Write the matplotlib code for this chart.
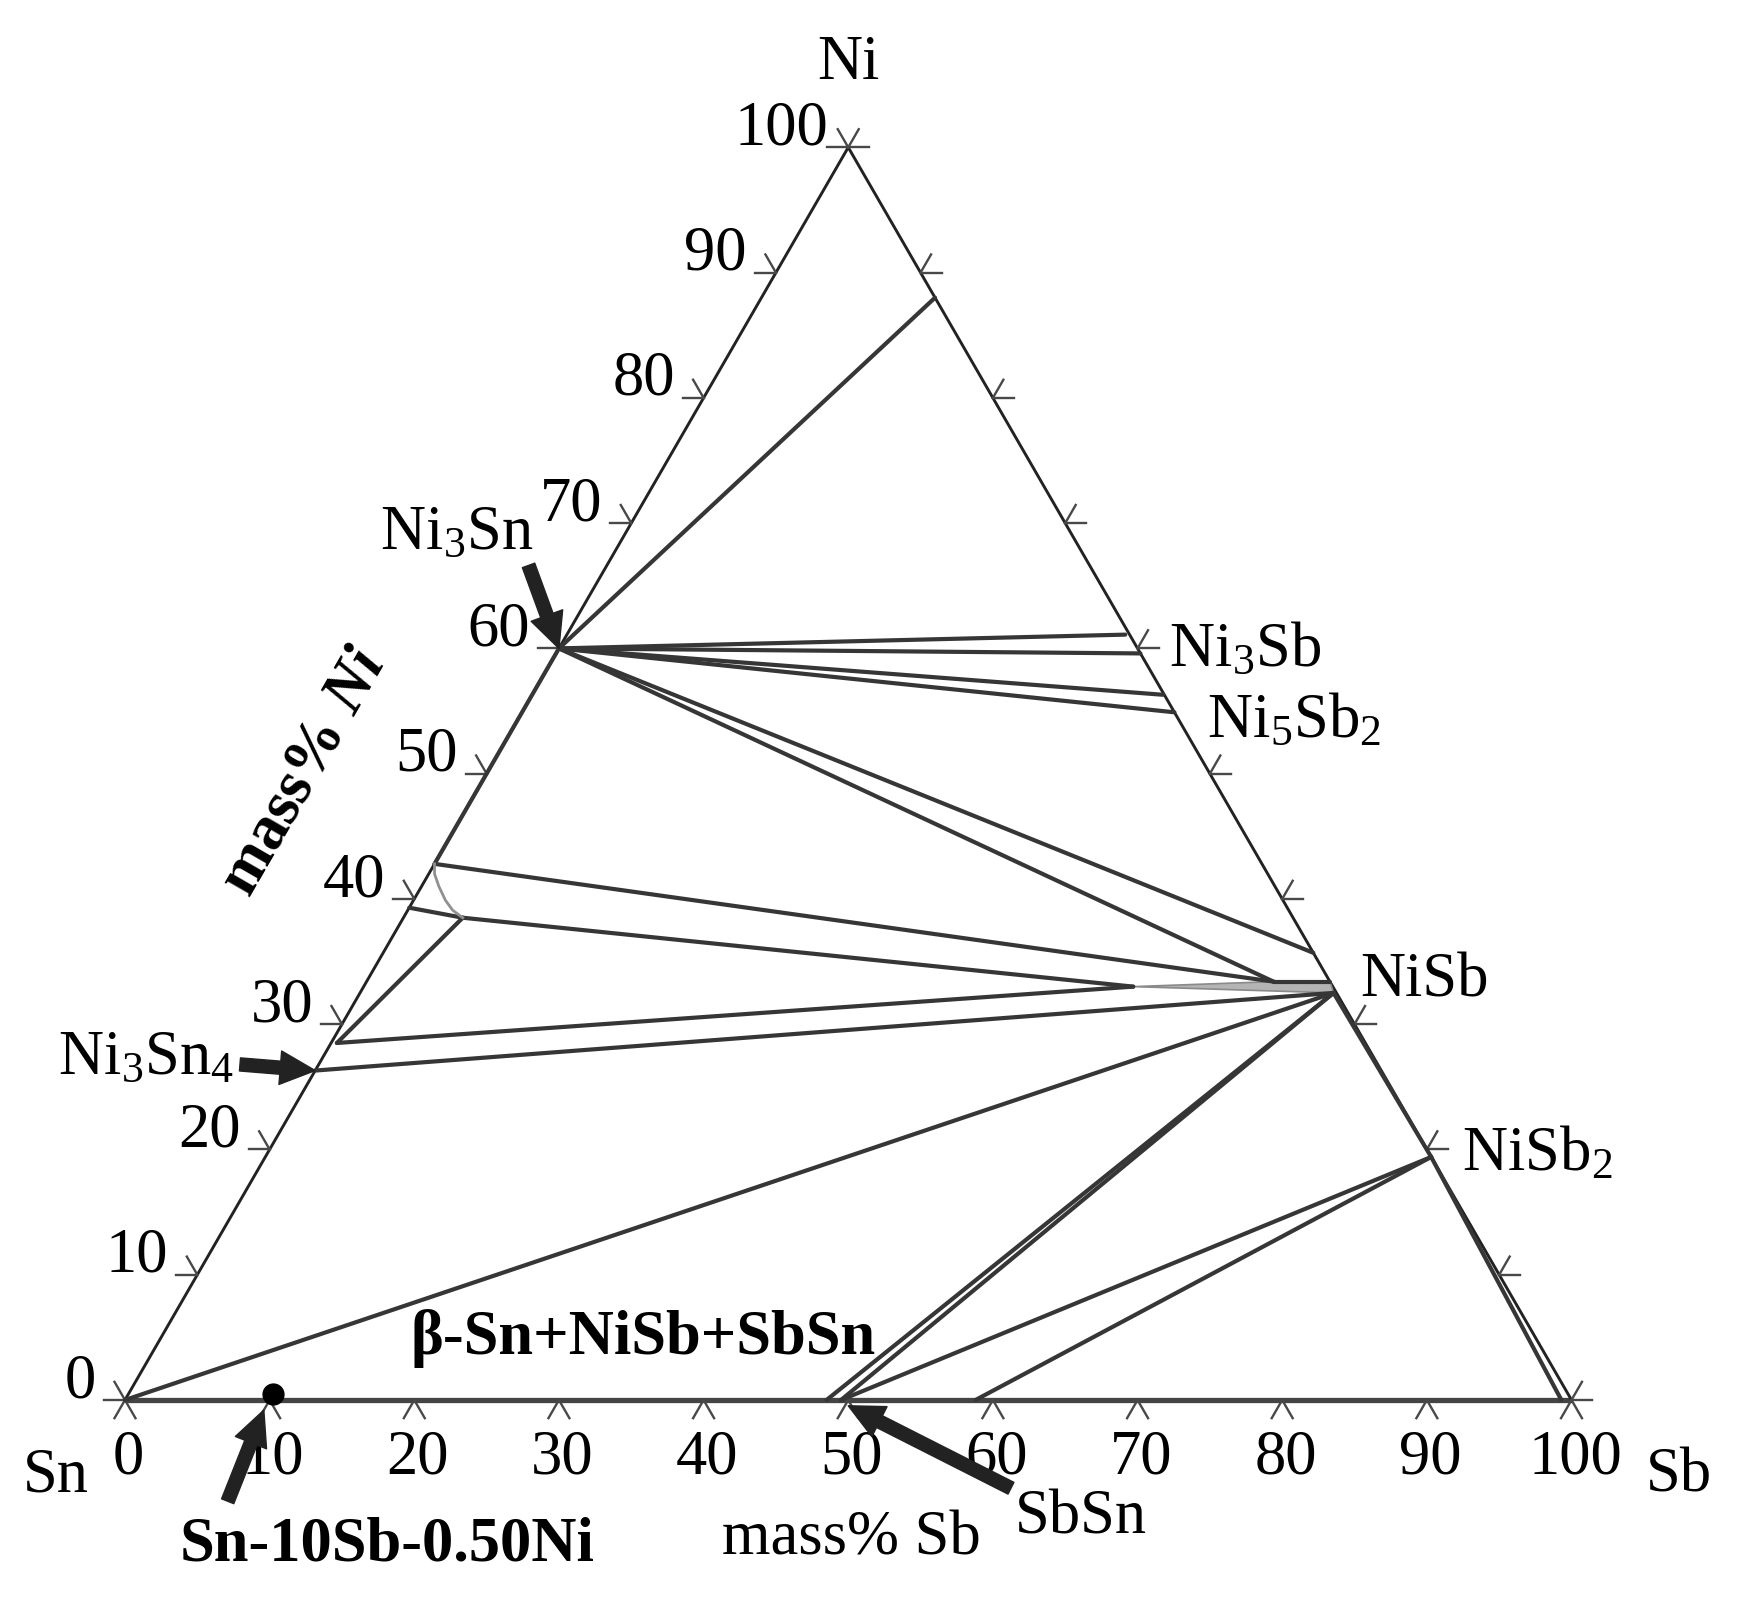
import numpy as np
import matplotlib
matplotlib.use("Agg")
import matplotlib.pyplot as plt

plt.rcParams.update({"font.family": "Liberation Serif", "mathtext.fontset": "custom",
                     "mathtext.rm": "Liberation Serif", "mathtext.it": "Liberation Serif:italic",
                     "mathtext.bf": "Liberation Serif:bold", "mathtext.bfit": "Liberation Serif:bold:italic",
                     "mathtext.default": "regular"})

# compositions as (mass% Sb, mass% Ni)
TICKS = list(range(0, 101, 10))
NI3SN = (0.0, 60.0)
NI_SS = (12.0, 88.0)
NI3SB = [(38.6, 61.1), (40.4, 59.6)]
NI5SB2 = [(43.6, 56.3), (45.1, 54.9)]
NI3SN2_HI, NI3SN2_LO, NI3SN2_CORNER = (0.0, 42.8), (0.0, 39.3), (4.1, 38.5)
NI3SN4_HI, NI3SN4_LO = (0.4, 28.5), (0.0, 26.3)
NISB_TOP, NISB_K, NISB_EDGE, NISB_TIP, NISB_LOW = (64.3, 35.7), (62.7, 33.4), (66.6, 33.4), (53.2, 33.0), (67.3, 32.5)
NISB2 = (80.6, 19.4)
SBSN = [(48.5, 0.0), (49.5, 0.0), (58.8, 0.0)]
SB_END = (99.3, 0.0)
SN = (0.0, 0.0)
ALLOY = (10.0, 0.5)
ARC_SB = [0.0, 0.4, 1.2, 2.2, 3.1, 4.1]
ARC_NI = [42.8, 42.0, 41.0, 39.9, 39.1, 38.5]

TIE_LINES = [(NI3SN, NI_SS), (NI3SN, NI3SB[0]), (NI3SN, NI3SB[1]), (NI3SN, NI5SB2[0]), (NI3SN, NI5SB2[1]),
             (NI3SN, NISB_TOP), (NI3SN, NISB_K), (NI3SN2_HI, NISB_K), (NISB_K, NISB_EDGE),
             (NI3SN2_LO, NI3SN2_CORNER), (NI3SN2_CORNER, NISB_TIP), (NI3SN2_CORNER, NI3SN4_HI),
             (NI3SN4_HI, NISB_TIP), (NI3SN4_LO, NISB_LOW), (SN, NISB_LOW), (SBSN[0], NISB_LOW),
             (SBSN[1], NISB_LOW), (SBSN[1], NISB2), (SBSN[2], NISB2), (NISB2, SB_END),
             (NI3SN2_HI, NI3SN), (NISB_LOW, NISB2)]

S3 = np.sqrt(3) / 2


def tern(sb, ni):
    return sb + ni / 2, ni * S3


fig = plt.figure(figsize=(17.38, 15.97), dpi=100)
ax = fig.add_axes([0, 0, 1, 1])
ax.set_xlim(-8.64, 111.51); ax.set_ylim(-13.62, 96.79); ax.axis("off")

EDGE, TIE, TICK = "#222222", "#363636", "#484848"

# triangle
cx, cy = zip(*[tern(*p) for p in [(0, 0), (100, 0), (0, 100), (0, 0)]])
ax.plot(cx[:2], cy[:2], color="#444444", lw=3.8, solid_capstyle="butt", zorder=2)
ax.plot(cx[1:], cy[1:], color=EDGE, lw=2.1, zorder=2)

# ticks
L = 1.45
for k in TICKS:
    for (sb, ni), angs in [((k, 0), (240, 300)), ((0, k), (180, 120)), ((100 - k, k), (0, 60))]:
        x0, y0 = tern(sb, ni)
        for a in angs:
            ax.plot([x0, x0 + L * np.cos(np.radians(a))], [y0, y0 + L * np.sin(np.radians(a))],
                    color=TICK, lw=1.7, zorder=2)
    x0, y0 = tern(0, k)
    ax.text(x0 - (1.4 if k == 100 else 2.0), y0 + 0.2, str(k), ha="right", va="baseline", fontsize=45)
    x0, y0 = tern(k, 0)
    ax.text(x0 + 0.25, -5.1, str(k), ha="center", va="baseline", fontsize=45)

# NiSb(Sn) lens
lx, ly = zip(*[tern(*p) for p in [NISB_TIP, NISB_K, NISB_EDGE, NISB_LOW, NISB_TIP]])
ax.fill(lx, ly, color="#b4b4b4", lw=1.2, ec="#8a8a8a", zorder=3)

# tie lines
for a, b in TIE_LINES:
    (x1, y1), (x2, y2) = tern(*a), tern(*b)
    ax.plot([x1, x2], [y1, y2], color=TIE, lw=3.0, solid_capstyle="round", zorder=4)

ax.plot(*tern(np.array(ARC_SB), np.array(ARC_NI)), color="#909090", lw=2.0, zorder=4)
ax.plot(*tern(*ALLOY), "o", color="black", ms=15, zorder=6)

# labels
T = dict(fontsize=45)
ax.text(50.0, 91.3, "Ni", ha="center", va="baseline", **T)
ax.text(-4.8, -6.3, "Sn", ha="center", va="baseline", **T)
ax.text(107.45, -6.3, "Sb", ha="center", va="baseline", **T)
ax.text(50.2, -10.7, "mass% Sb", ha="center", va="baseline", **T)
ax.text(12.4, 43.4, r"mass% $\mathbfit{Ni}$", rotation=60, rotation_mode="anchor",
        ha="center", va="center", fontweight="bold", **T)
ax.text(17.6, 58.8, r"Ni$_3$Sn", ha="left", va="baseline", **T)
ax.text(72.2, 50.7, r"Ni$_3$Sb", ha="left", va="baseline", **T)
ax.text(74.8, 45.8, r"Ni$_5$Sb$_2$", ha="left", va="baseline", **T)
ax.text(85.4, 27.9, "NiSb", ha="left", va="baseline", **T)
ax.text(92.4, 15.9, r"NiSb$_2$", ha="left", va="baseline", **T)
ax.text(-4.6, 22.5, r"Ni$_3$Sn$_4$", ha="left", va="baseline", **T)
ax.text(61.5, -9.2, "SbSn", ha="left", va="baseline", **T)
ax.text(35.8, 3.15, "β-Sn+NiSb+SbSn", ha="center", va="baseline", fontweight="bold", **T)
ax.text(18.1, -11.1, "Sn-10Sb-0.50Ni", ha="center", va="baseline", fontweight="bold", **T)

ARW = dict(arrowstyle="simple,head_length=1.2,head_width=1.15,tail_width=0.45", color="#222222",
           mutation_scale=21, shrinkA=0, shrinkB=0)
for tail, head in [((27.9, 57.7), tern(*NI3SN)), ((7.95, 23.2), tern(*NI3SN4_LO)),
                   ((61.25, -6.1), (50.0, -0.4)), ((7.1, -7.0), (9.6, -0.7))]:
    ax.annotate("", xy=head, xytext=tail, arrowprops=ARW, zorder=7)

fig.savefig("out.png", dpi=100, facecolor="white")
